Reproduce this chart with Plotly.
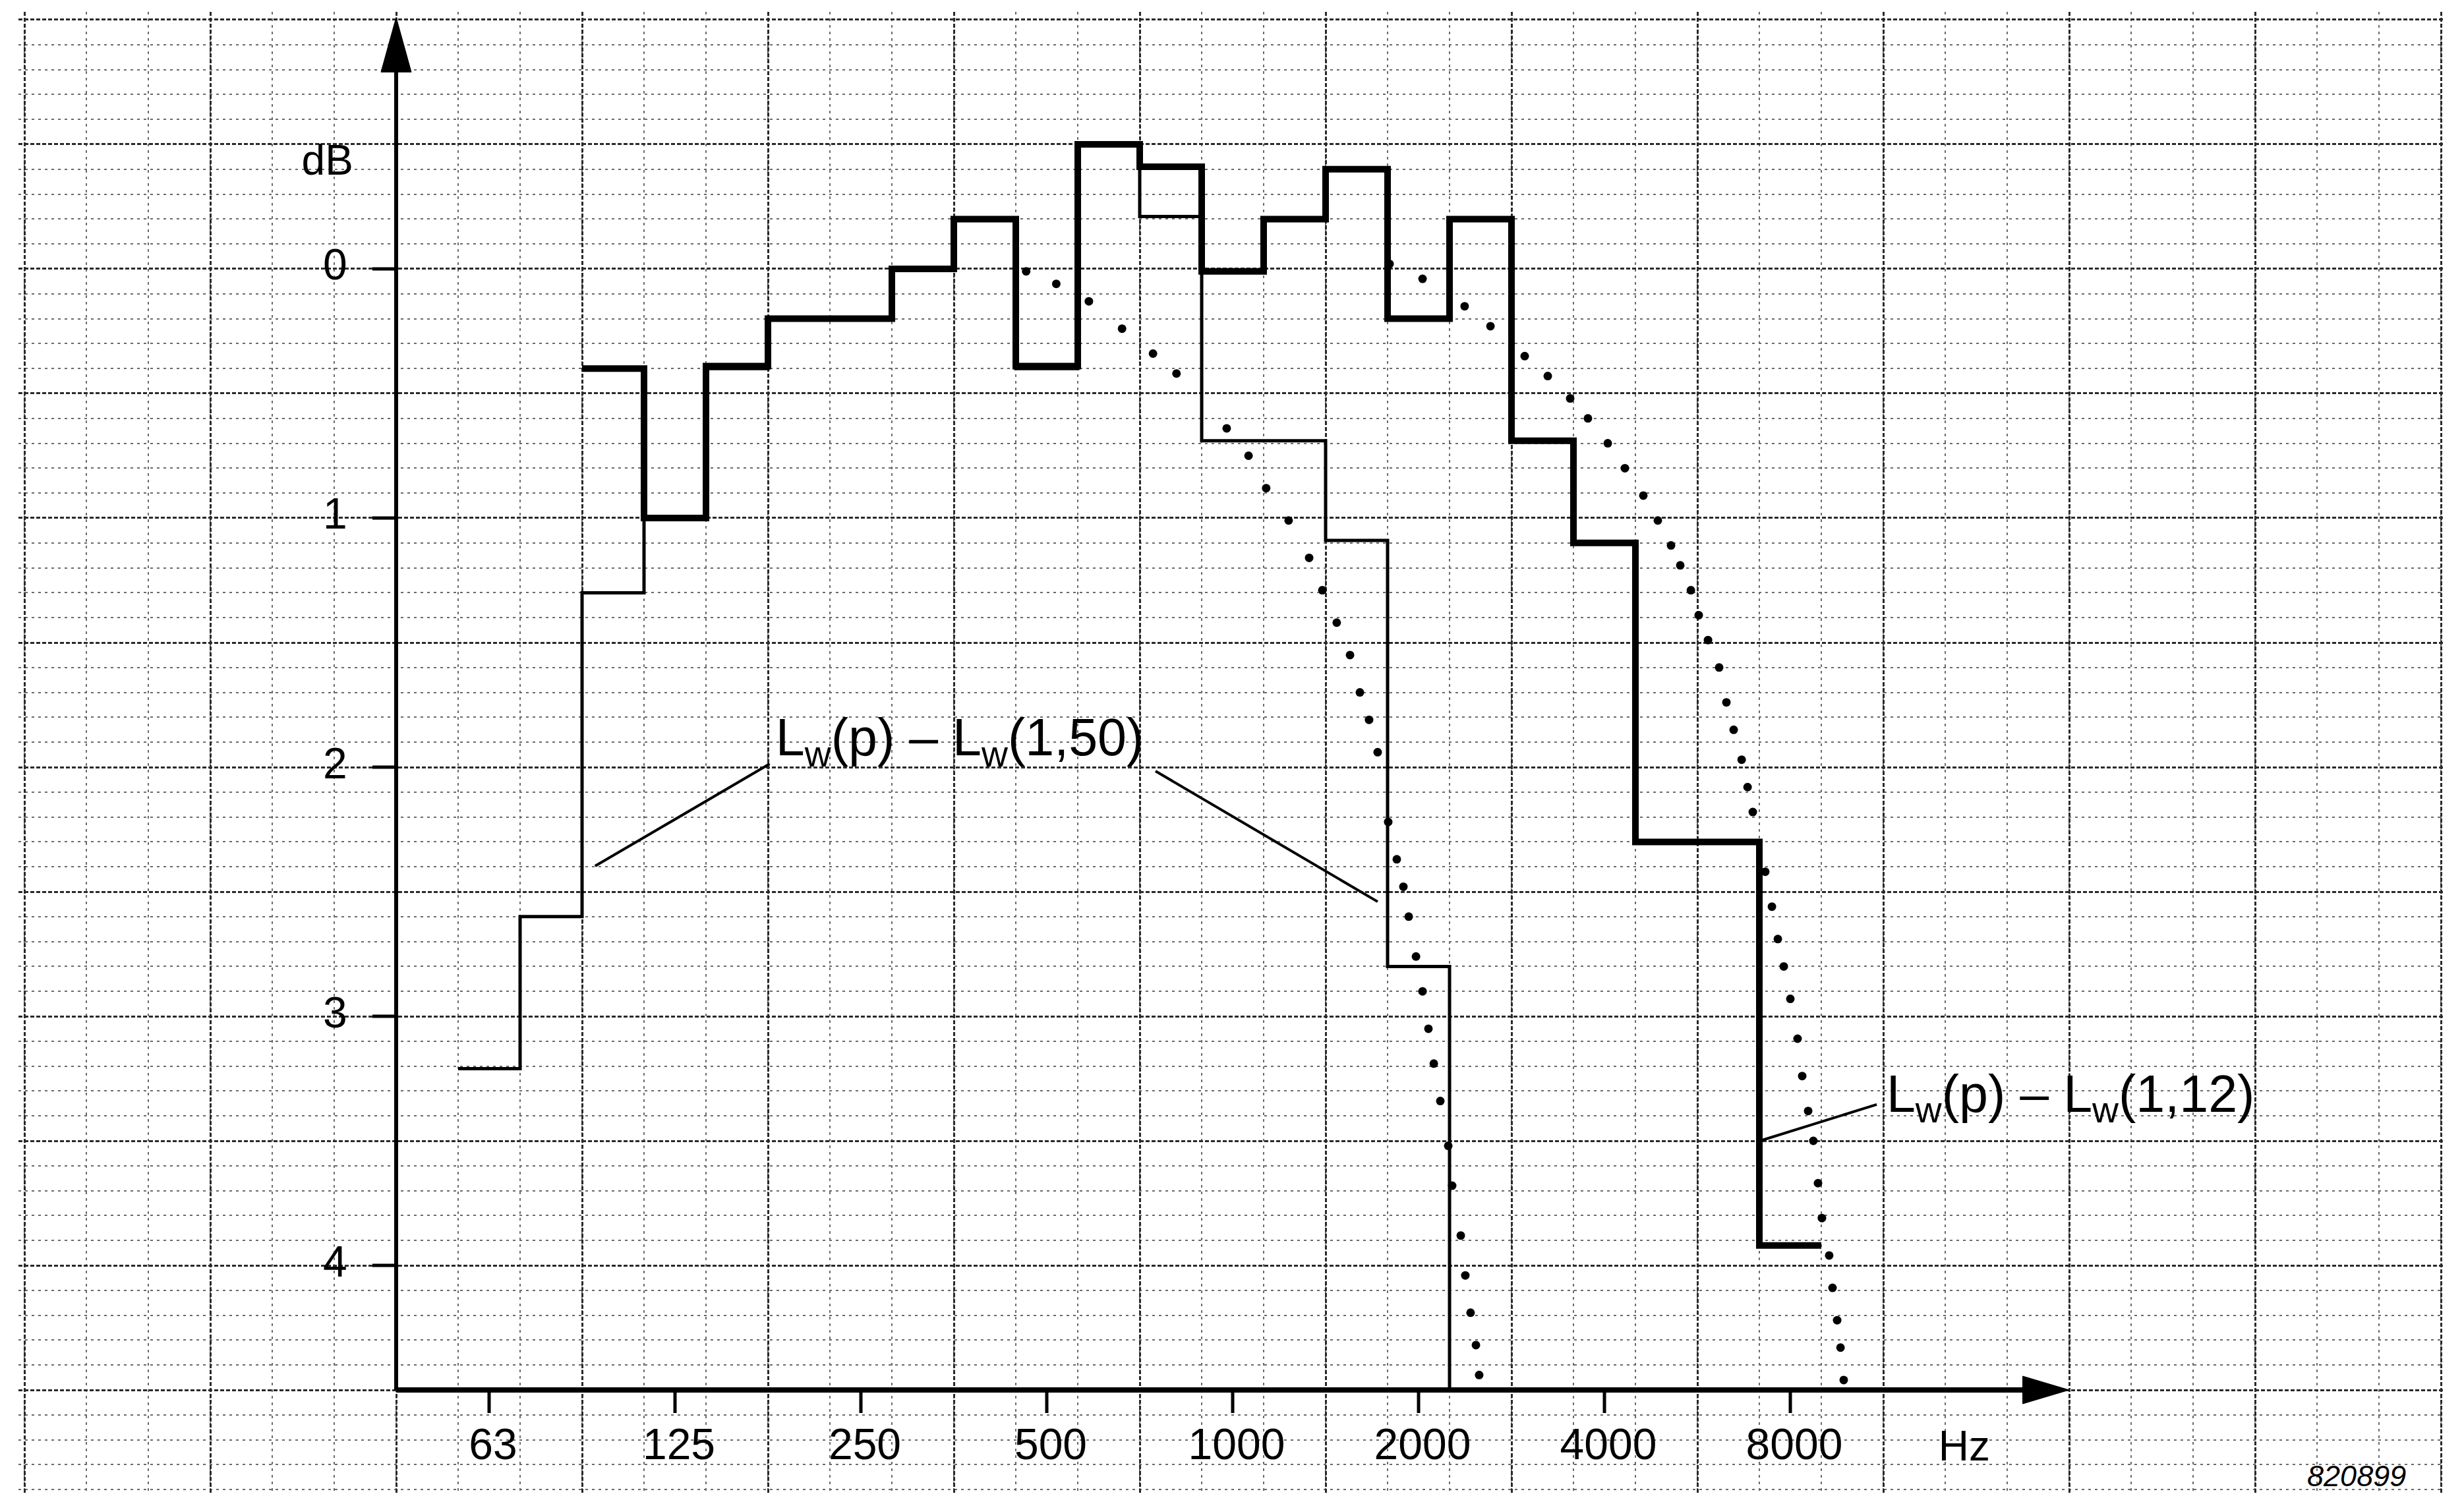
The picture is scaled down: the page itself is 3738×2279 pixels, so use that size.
import numpy as np
import plotly.graph_objects as go

# ---------------- data ----------------
# third-octave band centre frequencies (nominal, Hz)
bands_150 = [63, 80, 100, 125, 160, 200, 250, 315, 400, 500, 630, 800,
             1000, 1250, 1600, 2000]
db_150 = [3.21, 2.60, 1.30, 1.00, 0.40, 0.20, 0.20, 0.00, -0.20, 0.40, -0.50,
          -0.21, 0.69, 0.69, 1.09, 2.80]

bands_112 = [100, 125, 160, 200, 250, 315, 400, 500, 630, 800, 1000, 1250,
             1600, 2000, 2500, 3150, 4000, 5000, 6300, 8000]
db_112 = [0.40, 1.00, 0.39, 0.20, 0.20, 0.00, -0.20, 0.39, -0.50, -0.41, 0.01,
          -0.20, -0.40, 0.20, -0.20, 0.69, 1.10, 2.30, 2.30, 3.92]

# dotted curves (frequency in Hz, level in dB)
dots_a_f = [463, 518, 585, 662, 743, 811, 978, 1061, 1133, 1232, 1330, 1397,
            1474, 1549, 1607, 1663, 1717, 1786, 1844, 1890, 1928, 1981, 2030,
            2075, 2117, 2169, 2234, 2267, 2341, 2381, 2428, 2477, 2507]
dots_a_db = [0.01, 0.06, 0.13, 0.24, 0.34, 0.42, 0.64, 0.75, 0.88, 1.01, 1.16,
             1.29, 1.42, 1.55, 1.70, 1.81, 1.94, 2.22, 2.37, 2.48, 2.60, 2.76,
             2.90, 3.05, 3.19, 3.34, 3.52, 3.68, 3.88, 4.04, 4.19, 4.32, 4.44]

dots_b_f = [1795, 2030, 2375, 2615, 2971, 3238, 3520, 3761, 4050, 4317, 4624,
            4881, 5127, 5307, 5521, 5685, 5885, 6135, 6303, 6476, 6672, 6821,
            6955, 7286, 7469, 7636, 7807, 8000, 8219, 8362, 8549, 8717, 8869,
            9000, 9247, 9363, 9526, 9646, 9762]
dots_b_db = [-0.02, 0.04, 0.15, 0.23, 0.35, 0.43, 0.52, 0.60, 0.70, 0.80, 0.91,
             1.01, 1.11, 1.19, 1.29, 1.39, 1.49, 1.60, 1.74, 1.85, 1.97, 2.08,
             2.18, 2.42, 2.56, 2.69, 2.80, 2.93, 3.09, 3.24, 3.38, 3.50, 3.67,
             3.81, 3.96, 4.09, 4.22, 4.33, 4.46]

x_tick_labels = ["63", "125", "250", "500", "1000", "2000", "4000", "8000"]
y_tick_labels = ["0", "1", "2", "3", "4"]
y_tick_values = [0, 1, 2, 3, 4]

label_150 = "L<sub>w</sub>(p) – L<sub>w</sub>(1,50)"
label_112 = "L<sub>w</sub>(p) – L<sub>w</sub>(1,12)"

# ---------------- helpers ----------------
AXIS_DB = 4.5                     # level at which the frequency axis sits
F_AXIS = 1000 * 2 ** -4.5          # frequency at which the dB axis sits
FONT = "Liberation Sans, Arial, Helvetica, sans-serif"


def exact_centre(f_nom):
    n = round(3 * np.log2(f_nom / 1000.0))
    return 1000.0 * 2 ** (n / 3.0)


def step_xy(bands, vals, drop_to=None):
    fc = np.array([exact_centre(b) for b in bands])
    lo = fc * 2 ** (-1 / 6)
    hi = fc * 2 ** (1 / 6)
    xs = list(lo) + [hi[-1]]
    ys = list(vals) + [vals[-1]]
    if drop_to is not None:
        xs.append(hi[-1])
        ys.append(drop_to)
    return xs, ys


fig = go.Figure()

# dotted curves
for fx, dy in [(dots_a_f, dots_a_db), (dots_b_f, dots_b_db)]:
    fig.add_trace(go.Scatter(x=fx, y=dy, mode="markers",
                             marker=dict(size=13, color="black"),
                             hoverinfo="skip", showlegend=False))

# step curves
xs, ys = step_xy(bands_150, db_150, drop_to=AXIS_DB)
fig.add_trace(go.Scatter(x=xs, y=ys, mode="lines", line_shape="hv",
                         line=dict(color="black", width=5),
                         hoverinfo="skip", showlegend=False))
xs, ys = step_xy(bands_112, db_112)
fig.add_trace(go.Scatter(x=xs, y=ys, mode="lines", line_shape="hv",
                         line=dict(color="black", width=10),
                         hoverinfo="skip", showlegend=False))

# axes lines
fig.add_trace(go.Scatter(x=[F_AXIS, F_AXIS], y=[AXIS_DB, -0.80], mode="lines",
                         line=dict(color="black", width=6),
                         hoverinfo="skip", showlegend=False))
f_arrow_base = 1000 * 2 ** 4.25
f_arrow_tip = 1000 * 2 ** 4.5
fig.add_trace(go.Scatter(x=[F_AXIS, f_arrow_base], y=[AXIS_DB, AXIS_DB],
                         mode="lines", line=dict(color="black", width=8),
                         hoverinfo="skip", showlegend=False))
# arrow heads
hw = 2 ** (23 / 282)
fig.add_trace(go.Scatter(x=[F_AXIS / hw, F_AXIS * hw, F_AXIS, F_AXIS / hw],
                         y=[-0.79, -0.79, -1.01, -0.79], mode="lines",
                         fill="toself", fillcolor="black",
                         line=dict(color="black", width=1),
                         hoverinfo="skip", showlegend=False))
hh = 21 / 378
fig.add_trace(go.Scatter(x=[f_arrow_base, f_arrow_base, f_arrow_tip, f_arrow_base],
                         y=[AXIS_DB - hh, AXIS_DB + hh, AXIS_DB, AXIS_DB - hh],
                         mode="lines", fill="toself", fillcolor="black",
                         line=dict(color="black", width=1),
                         hoverinfo="skip", showlegend=False))

# tick marks
x_tick_f = [exact_centre(float(t)) for t in x_tick_labels]
tx, ty = [], []
for f in x_tick_f:
    tx += [f, f, None]
    ty += [AXIS_DB, AXIS_DB + 35 / 378, None]
fig.add_trace(go.Scatter(x=tx, y=ty, mode="lines",
                         line=dict(color="black", width=5),
                         hoverinfo="skip", showlegend=False))
tx, ty = [], []
f_tick_left = F_AXIS * 2 ** (-36 / 282)
for v in y_tick_values:
    tx += [f_tick_left, F_AXIS, None]
    ty += [v, v, None]
fig.add_trace(go.Scatter(x=tx, y=ty, mode="lines",
                         line=dict(color="black", width=5),
                         hoverinfo="skip", showlegend=False))

# leader lines
leaders = [([92.8, 177.9], [2.397, 1.987]),
           ([750, 1717], [2.016, 2.540]),
           ([7144, 11040], [3.500, 3.354])]
for lx, ly in leaders:
    fig.add_trace(go.Scatter(x=lx, y=ly, mode="lines",
                             line=dict(color="black", width=4),
                             hoverinfo="skip", showlegend=False))

# text
fig.add_trace(go.Scatter(x=[f * 2 ** (6 / 282) for f in x_tick_f],
                         y=[4.735] * len(x_tick_f), mode="text",
                         text=x_tick_labels, textposition="middle center",
                         textfont=dict(family=FONT, size=66, color="black"),
                         hoverinfo="skip", showlegend=False))
fig.add_trace(go.Scatter(x=[35.2] * 5, y=y_tick_values, mode="text",
                         text=y_tick_labels, textposition="middle center",
                         textfont=dict(family=FONT, size=66, color="black"),
                         hoverinfo="skip", showlegend=False))
fig.add_trace(go.Scatter(x=[34.2, 15300], y=[-0.42, 4.74], mode="text",
                         text=["dB", "Hz"], textposition="middle center",
                         textfont=dict(family=FONT, size=64, color="black"),
                         hoverinfo="skip", showlegend=False))
fig.add_trace(go.Scatter(x=[182.0, 11450], y=[1.90, 3.33], mode="text",
                         text=[label_150, label_112], textposition="middle right",
                         textfont=dict(family=FONT, size=79, color="black"),
                         hoverinfo="skip", showlegend=False))
fig.add_trace(go.Scatter(x=[66100], y=[4.857], mode="text",
                         text=["<i>820899</i>"], textposition="middle center",
                         textfont=dict(family=FONT, size=45, color="black"),
                         hoverinfo="skip", showlegend=False))

# graph-paper grid
j = np.arange(-20, 20)
edges_all = 1000 * 2 ** ((j + 0.5) / 3)
edges_heavy = edges_all[(j - 1) % 3 == 0]

# the page body has an 8 px margin; size the figure so the plot area lands
# where the reference has it inside the 3738x2279 window
fig.update_layout(
    width=3722, height=2263,
    margin=dict(l=20, r=22, t=10, b=3),
    paper_bgcolor="white", plot_bgcolor="white",
    showlegend=False,
    xaxis=dict(type="log", range=[1.0337, 4.9620],
               tickmode="array", tickvals=list(edges_heavy),
               showticklabels=False, ticks="", zeroline=False, showline=False,
               showgrid=True, gridcolor="#2a2a2a", gridwidth=3,
               griddash="6px,3px",
               minor=dict(tickmode="array", tickvals=list(edges_all),
                          showgrid=True, gridcolor="#6a6a6a", gridwidth=2,
                          griddash="4px,6px", ticks="")),
    yaxis=dict(range=[4.9206, -1.0317],
               tickmode="linear", tick0=0, dtick=0.5,
               showticklabels=False, ticks="", zeroline=False, showline=False,
               showgrid=True, gridcolor="#2a2a2a", gridwidth=3,
               griddash="6px,3px",
               minor=dict(tickmode="linear", tick0=0, dtick=0.1,
                          showgrid=True, gridcolor="#6a6a6a", gridwidth=2,
                          griddash="4px,6px", ticks="")),
)

fig.write_html("out.html")
